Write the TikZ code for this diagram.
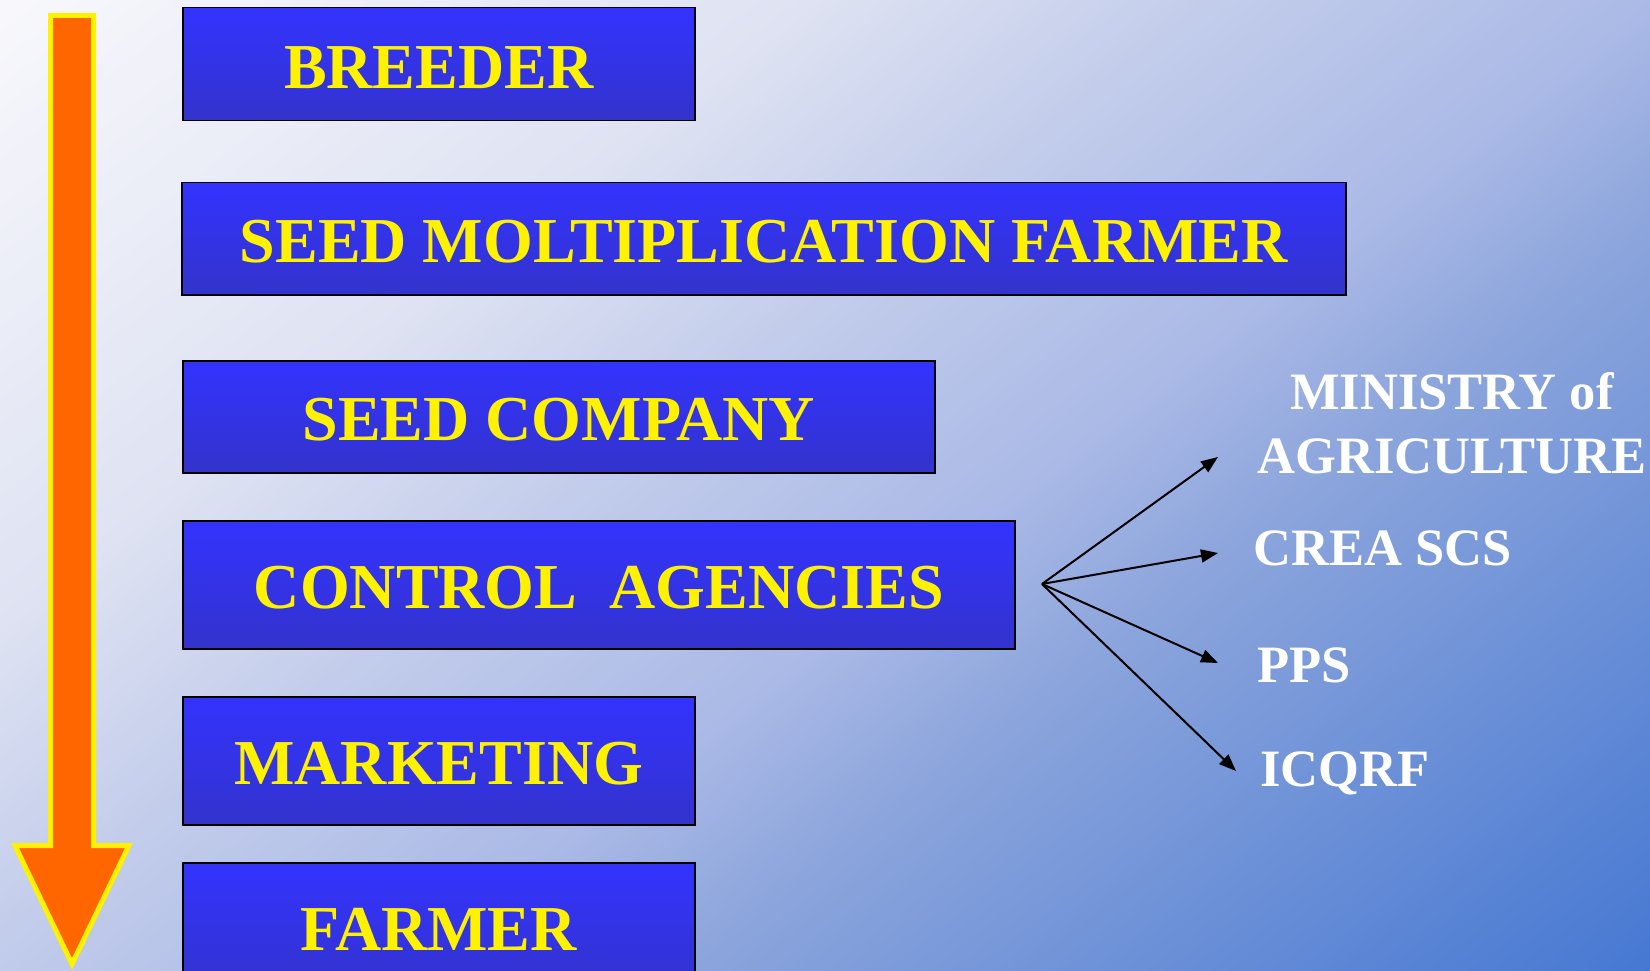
\documentclass[tikz,border=0pt]{standalone}
\usepackage{fontspec}
\setmainfont{Liberation Serif}
\usetikzlibrary{arrows.meta}
\definecolor{bgA}{RGB}{248,248,252}
\definecolor{bgB}{RGB}{222,226,242}
\definecolor{bgC}{RGB}{195,205,235}
\definecolor{bgD}{RGB}{170,185,230}
\definecolor{bgE}{RGB}{140,165,220}
\definecolor{bgF}{RGB}{70,120,210}
\definecolor{boxtop}{RGB}{51,51,255}
\definecolor{boxbot}{RGB}{51,51,204}
\definecolor{arrfill}{RGB}{255,102,0}
\pgfdeclareverticalshading{bgshade}{100bp}{color(0bp)=(bgA); color(35.2bp)=(bgA);
  color(43.49bp)=(bgB); color(47.51bp)=(bgC); color(52.1bp)=(bgD); color(54.92bp)=(bgE);
  color(64.81bp)=(bgF); color(100bp)=(bgF)}
\begin{document}
\begin{tikzpicture}[x=1pt,y=-1pt,
  stagebox/.style={draw=black, line width=1.5pt, top color=boxtop, bottom color=boxbot,
    anchor=north west, inner sep=0pt, text=yellow, text height=48pt, text depth=0pt,
    font=\fontsize{64}{70}\selectfont\bfseries},
  lbl/.style={text=white, inner sep=0pt, font=\fontsize{52.5}{64}\selectfont\bfseries},
  conn/.style={draw=black, line width=2pt, -{Triangle[length=17pt,width=13pt]}},
  bigarrow/.style={draw=yellow, fill=arrfill, line width=5pt, line join=miter}]
\clip (0,0) rectangle (1650,971);
\shade[shading=bgshade, shading angle=-142.4] (-675,-1014.5) rectangle (2325,1985.5);

% big down arrow
\draw[bigarrow] (50.5,15.5) -- (93.5,15.5) -- (93.5,845.5) -- (129,845.5) -- (72,964)
  -- (15,845.5) -- (50.5,845.5) -- cycle;

% stage boxes
\node[stagebox, minimum width=512pt, minimum height=113pt] (breeder) at (182,7) {BREEDER};
\node[stagebox, minimum width=1164pt, minimum height=112pt] (smf) at (181,182) {SEED MOLTIPLICATION FARMER};
\node[stagebox, minimum width=752pt, minimum height=112pt] (company) at (182,360) {SEED COMPANY};
\node[stagebox, minimum width=832pt, minimum height=128pt] (control) at (182,520) {CONTROL\ \ AGENCIES};
\node[stagebox, minimum width=512pt, minimum height=128pt] (marketing) at (182,696) {MARKETING};
\node[stagebox, minimum width=512pt, minimum height=128pt] (farmer) at (182,862) {FARMER};

% agency labels
\node[lbl, align=center] (ministry) at (1452,423) {MINISTRY of\\AGRICULTURE};
\node[lbl, anchor=base west] (crea) at (1253,565) {CREA SCS};
\node[lbl, anchor=base west] (pps) at (1257,682) {PPS};
\node[lbl, anchor=base west] (icqrf) at (1260,786) {ICQRF};

% connectors
\coordinate (hub) at (1042,584);
\coordinate (t1) at (1218,457);
\coordinate (t2) at (1218,553);
\coordinate (t3) at (1218,663);
\coordinate (t4) at (1236,771);
\draw[conn] (hub) -- (t1);
\draw[conn] (hub) -- (t2);
\draw[conn] (hub) -- (t3);
\draw[conn] (hub) -- (t4);
\end{tikzpicture}
\end{document}
